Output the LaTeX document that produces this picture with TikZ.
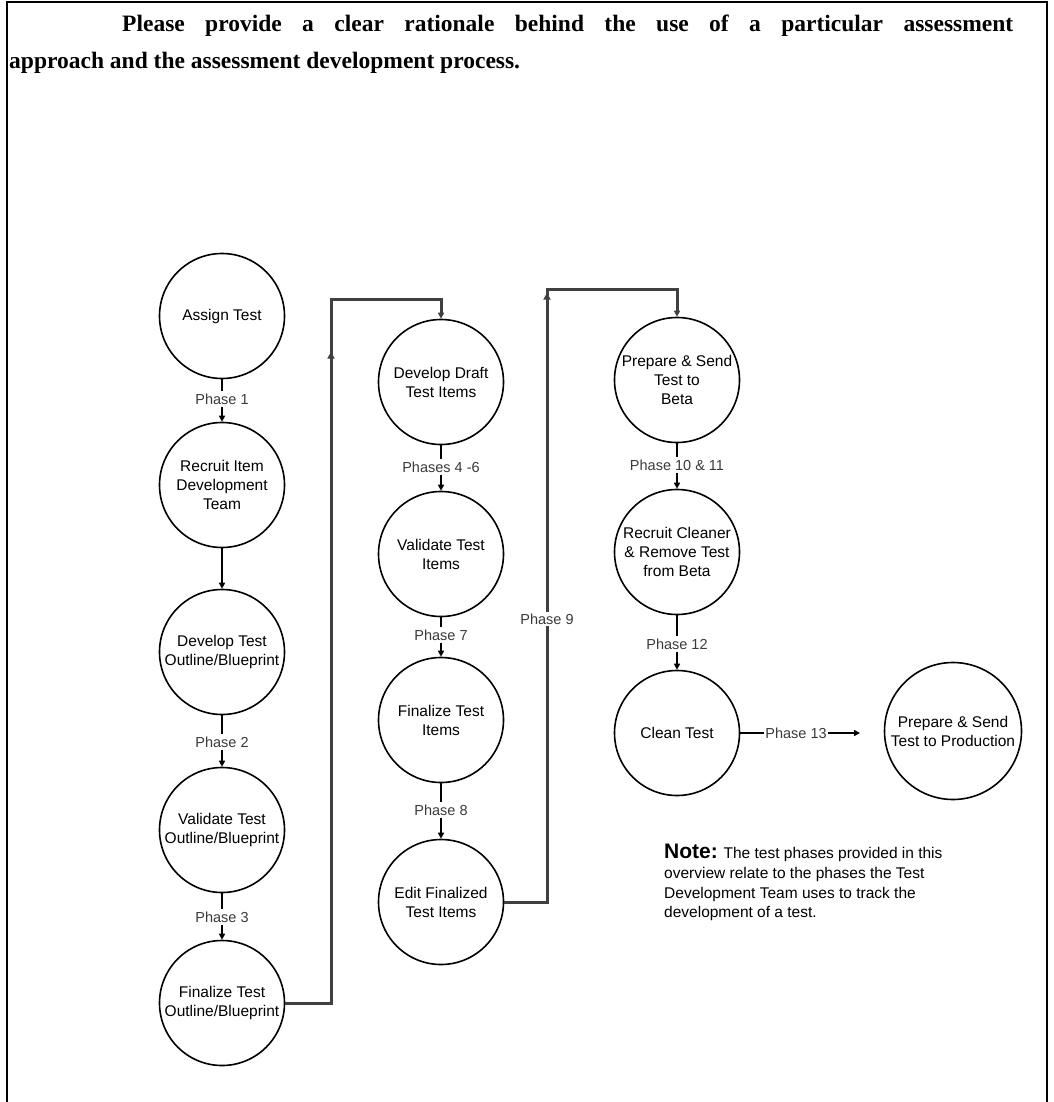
\documentclass[tikz,border=0pt]{standalone}
\usepackage{fontspec}
\setmainfont{Liberation Sans}
\newfontfamily\titlefont{Liberation Serif}
\usetikzlibrary{arrows.meta,decorations.markings}

\definecolor{loopcol}{HTML}{404040}
\definecolor{phasecol}{HTML}{3A3A3A}

\tikzset{
  stage/.style={circle, draw, line width=1.6pt, minimum size=125pt, inner sep=0pt, align=center, font=\fontsize{15.5}{19}\selectfont},
  phase/.style={inner sep=2pt, text=phasecol, font=\fontsize{14.5}{17}\selectfont},
  link/.style={line width=1.6pt},
  arrowtip/.style={-{Triangle[length=6pt,width=6pt]}},
  loopline/.style={color=loopcol, line width=3pt},
}

\begin{document}
\begin{tikzpicture}[x=1pt, y=-1pt]
\useasboundingbox (0,0) rectangle (1053,1102);
\draw[line width=2.5pt] (7,1102) -- (7,2) -- (1047,2) -- (1047,1102);

\node[anchor=base west, inner sep=0pt, font=\titlefont\bfseries\fontsize{23.5}{37}\selectfont] (title1) at (122,32) {\makebox[891pt][s]{Please provide a clear rationale behind the use of a particular assessment}};
\node[anchor=base west, inner sep=0pt, font=\titlefont\bfseries\fontsize{23.5}{37}\selectfont] (title2) at (9,69) {approach and the assessment development process.};

\node[stage] (assign) at (222,316) {Assign Test};
\node[stage] (recruit) at (222,485) {Recruit Item\\Development\\Team};
\node[stage] (devout) at (222,652) {Develop Test\\Outline/Blueprint};
\node[stage] (valout) at (222,830) {Validate Test\\Outline/Blueprint};
\node[stage] (finout) at (222,1003) {Finalize Test\\Outline/Blueprint};
\node[stage] (draft) at (441,382) {Develop Draft\\Test Items};
\node[stage] (valitems) at (441,554) {Validate Test\\Items};
\node[stage] (finitems) at (441,720) {Finalize Test\\Items};
\node[stage] (edit) at (441,902) {Edit Finalized\\Test Items};
\node[stage] (beta) at (677,380) {Prepare \& Send\\Test to\\Beta};
\node[stage] (cleaner) at (677,552) {Recruit Cleaner\\\& Remove Test\\from Beta};
\node[stage] (clean) at (677,733) {Clean Test};
\node[stage, minimum size=137pt] (prod) at (953,731) {Prepare \& Send\\Test to Production};

\node[phase] (p1) at (222,399) {Phase 1};
\node[phase] (p2) at (222,742) {Phase 2};
\node[phase] (p3) at (222,917) {Phase 3};
\node[phase] (p46) at (441,467) {Phases 4 -6};
\node[phase] (p7) at (441,635) {Phase 7};
\node[phase] (p8) at (441,810) {Phase 8};
\node[phase] (p1011) at (677,465) {Phase 10 \& 11};
\node[phase] (p12) at (677,644) {Phase 12};
\node[phase, inner sep=1pt] (p13) at (796,733) {Phase 13};

\draw[link] (assign.south) -- (p1.north);
\draw[link, arrowtip] (p1.south) -- (recruit.north);
\draw[link, line width=2pt, arrowtip] (recruit.south) -- (devout.north);
\draw[link] (devout.south) -- (p2.north);
\draw[link, arrowtip] (p2.south) -- (valout.north);
\draw[link] (valout.south) -- (p3.north);
\draw[link, arrowtip] (p3.south) -- (finout.north);

\draw[link] (draft.south) -- (p46.north);
\draw[link, arrowtip] (p46.south) -- (valitems.north);
\draw[link] (valitems.south) -- (p7.north);
\draw[link, arrowtip] (p7.south) -- (finitems.north);
\draw[link] (finitems.south) -- (p8.north);
\draw[link, arrowtip] (p8.south) -- (edit.north);

\draw[link] (beta.south) -- (p1011.north);
\draw[link, arrowtip] (p1011.south) -- (cleaner.north);
\draw[link] (cleaner.south) -- (p12.north);
\draw[link, arrowtip] (p12.south) -- (clean.north);

\coordinate (p13tip) at (860,733);
\draw[link] (clean.east) -- (p13.west);
\draw[link, arrowtip] (p13.east) -- (p13tip);

\coordinate (up1) at (331,299);
\coordinate (up2) at (547,289);
\draw[loopline, arrowtip, postaction={decorate}, decoration={markings, mark=at position 697pt with {\arrow{Triangle[length=7pt,width=7pt]}}}] (finout.east) -| (up1) -| (draft.north);
\draw[loopline, arrowtip, postaction={decorate}, decoration={markings, mark=at position 652pt with {\arrow{Triangle[length=7pt,width=7pt]}}}] (edit.east) -| (up2) -| (beta.north);
\node[phase, fill=white] (p9) at (547,619) {Phase 9};

\node[anchor=north west, inner sep=0pt, align=left, font=\fontsize{15.5}{19.7}\selectfont] (note) at (664,844) {{\bfseries\fontsize{21}{19.7}\selectfont Note:} The test phases provided in this\\overview relate to the phases the Test\\Development Team uses to track the\\development of a test.};
\end{tikzpicture}
\end{document}
